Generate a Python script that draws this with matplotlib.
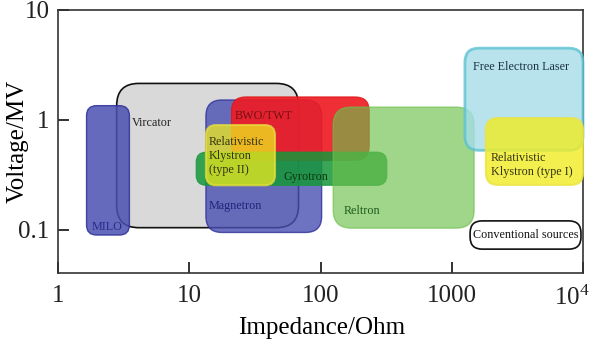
import matplotlib
matplotlib.use('Agg')
import matplotlib.pyplot as plt
from matplotlib.patches import FancyBboxPatch
from matplotlib.transforms import IdentityTransform, ScaledTranslation

plt.rcParams['font.family'] = ['Liberation Serif', 'DejaVu Serif']

# ---- data (impedance in Ohm, voltage in MV) ----
names = ["Vircator", "MILO", "Magnetron", "BWO/TWT", "Gyrotron",
         "Relativistic Klystron (type II)", "Reltron", "Free Electron Laser",
         "Relativistic Klystron (type I)", "Conventional sources"]
z_lo = [2.8, 1.65, 13.4, 21.0, 11.3, 13.4, 125, 1260, 1820, 1380]
z_hi = [68, 3.5, 102, 235, 320, 45, 1480, 10000, 10000, 9650]
v_lo = [0.105, 0.090, 0.095, 0.43, 0.255, 0.255, 0.104, 0.53, 0.257, 0.067]
v_hi = [2.15, 1.35, 1.52, 1.62, 0.51, 0.90, 1.31, 4.5, 1.04, 0.121]

labels = ["Vircator", "MILO", "Magnetron", "BWO/TWT", "Gyrotron",
          "Relativistic\nKlystron\n(type II)", "Reltron", "Free Electron Laser",
          "Relativistic\nKlystron (type I)", "Conventional sources"]
label_z = [3.66, 1.82, 14.1, 22.0, 51.8, 14.1, 151, 1452, 1991, 1452]
label_v = [0.94, 0.106, 0.165, 1.09, 0.302, 0.47, 0.149, 3.03, 0.39, 0.090]

x_ticks = [1, 10, 100, 1000, 10000]
x_ticklabels = ["1", "10", "100", "1000", r"$\mathregular{10^4}$"]
y_ticks = [0.1, 1, 10]
y_ticklabels = ["0.1", "1", "10"]

# ---- styles ----
faces = ['#d9d9d9', '#4a50b2', '#4a50b2', '#ee1c24', '#16973a',
         '#f0ec1e', '#6cc04a', '#a6dce8', '#f0ec28', '#ffffff']
edges = ['#111111', '#2e2e9a', '#2e2e9a', '#e01818', '#16973a',
         '#e8e040', '#6cc04a', '#5cc2d2', '#ece440', '#111111']
alphas = [1.0, 0.85, 0.8, 0.92, 0.85, 0.75, 0.65, 0.8, 0.82, 1.0]
lws = [1.2, 1.0, 1.0, 0.8, 0.8, 1.5, 1.0, 2.0, 1.5, 1.2]
radii = [22, 10, 16, 14, 10, 10, 18, 14, 12, 12]
text_colors = ['#222222', '#2a2a8a', '#22227a', '#7a1010', '#0a3a10',
               '#333311', '#1f5a1f', '#1a3040', '#333311', '#111111']

fig = plt.figure(figsize=(5.94, 3.45), dpi=100)
ax = fig.add_axes([58/594, 1-273/345, 525/594, 263/345])
ax.set_xscale('log')
ax.set_yscale('log')
ax.set_xlim(1, 10000)
ax.set_ylim(10**(-1-43/110), 10)

for i in range(len(names)):
    (x0, y0) = ax.transData.transform((z_lo[i], v_lo[i]))
    (x1, y1) = ax.transData.transform((z_hi[i], v_hi[i]))
    p = FancyBboxPatch((x0, y0), x1 - x0, y1 - y0,
                       boxstyle=f"round,pad=0,rounding_size={radii[i]}",
                       transform=IdentityTransform(), facecolor=faces[i],
                       edgecolor=edges[i], alpha=alphas[i], linewidth=lws[i],
                       zorder=2 + i * 0.1, clip_on=False)
    ax.add_artist(p)

for i in range(len(labels)):
    ax.text(label_z[i], label_v[i], labels[i], fontsize=8.7, color=text_colors[i],
            ha='left', va='center', zorder=5, linespacing=1.25)

ax.set_xticks(x_ticks)
ax.set_xticklabels(x_ticklabels)
ax.set_yticks(y_ticks)
ax.set_yticklabels(y_ticklabels)
ax.minorticks_off()
ax.tick_params(direction='in', length=8, width=1.3, labelsize=18, colors='#222222')
ax.tick_params(axis='x', pad=9)
ax.tick_params(axis='y', pad=6)
for s in ax.spines.values():
    s.set_linewidth(1.2)
    s.set_color('#333333')

# keep the last x tick label inside the figure
last = ax.get_xticklabels()[-1]
last.set_transform(last.get_transform() + ScaledTranslation(-8/72, 0, fig.dpi_scale_trans))

ax.set_xlabel("Impedance/Ohm", fontsize=18, va='center')
ax.xaxis.set_label_coords(0.503, -0.209)
ax.set_ylabel("Voltage/MV", fontsize=18, va='center')
ax.yaxis.set_label_coords(-0.076, 0.5)

fig.savefig('out.png', dpi=100)
